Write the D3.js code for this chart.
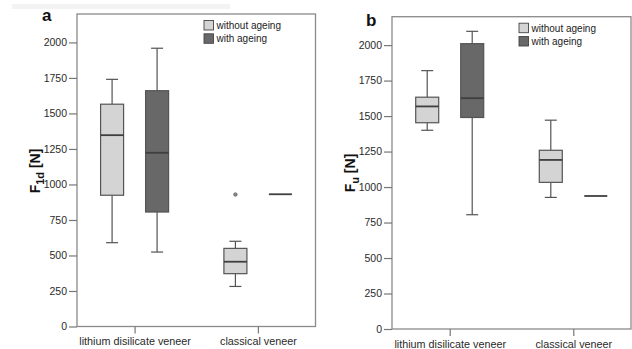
<!DOCTYPE html>
<html><head><meta charset="utf-8">
<script src="https://cdn.jsdelivr.net/npm/d3@7"></script>
<style>body{margin:0;background:#fff}svg{display:block}text{font-family:"Liberation Sans",Arial,sans-serif}</style>
</head><body>
<svg id="chart" width="632" height="349"></svg>
<script>
const categories = ["lithium disilicate veneer", "classical veneer"];
const seriesNames = ["without ageing", "with ageing"];
const yTicks = [0, 250, 500, 750, 1000, 1250, 1500, 1750, 2000];

// Panel a: F1d [N]
const aWithoutMin = [590, 282];
const aWithoutQ1 = [924, 372];
const aWithoutMed = [1347, 456];
const aWithoutQ3 = [1565, 550];
const aWithoutMax = [1740, 600];
const aWithoutOut = [[], [929]];
const aWithMin = [524, 931];
const aWithQ1 = [806, 931];
const aWithMed = [1223, 931];
const aWithQ3 = [1660, 931];
const aWithMax = [1959, 931];
const aWithOut = [[], []];

// Panel b: Fu [N]
const bWithoutMin = [1400, 927];
const bWithoutQ1 = [1453, 1033];
const bWithoutMed = [1568, 1191];
const bWithoutQ3 = [1633, 1259];
const bWithoutMax = [1820, 1471];
const bWithoutOut = [[], []];
const bWithMin = [805, 937];
const bWithQ1 = [1490, 937];
const bWithMed = [1626, 937];
const bWithQ3 = [2010, 937];
const bWithMax = [2097, 937];
const bWithOut = [[], []];

const fills = ["#d4d4d4", "#686868"];
const strokeC = "#545454";

function buildSeries(min, q1, med, q3, max, out) {
  return categories.map((c, i) => ({cat: c, min: min[i], q1: q1[i], med: med[i], q3: q3[i], max: max[i], out: out[i]}));
}

const panels = [
  {letter: "a", sub: "1d", left: 77, top: 14, right: 315.5, bottom: 326.5, lx: 42, ly: 21, labX: 40, labY: 171,
   series: [buildSeries(aWithoutMin, aWithoutQ1, aWithoutMed, aWithoutQ3, aWithoutMax, aWithoutOut),
            buildSeries(aWithMin, aWithQ1, aWithMed, aWithQ3, aWithMax, aWithOut)]},
  {letter: "b", sub: "u", left: 392, top: 16.7, right: 631, bottom: 329, lx: 366, ly: 26, labX: 355, labY: 173,
   series: [buildSeries(bWithoutMin, bWithoutQ1, bWithoutMed, bWithoutQ3, bWithoutMax, bWithoutOut),
            buildSeries(bWithMin, bWithQ1, bWithMed, bWithQ3, bWithMax, bWithOut)]}
];

const svg = d3.select("#chart");
svg.append("rect").attr("x", 12).attr("y", 4).attr("width", 218).attr("height", 5).attr("fill", "#f3f3f3");

panels.forEach(p => {
  const g = svg.append("g");
  const y = d3.scaleLinear().domain([0, 2200]).range([p.bottom, p.top]);
  const x = d3.scalePoint().domain(categories).range([p.left, p.right]).padding(0.467);
  const xs = d3.scalePoint().domain(seriesNames).range([-22.5, 22.5]);
  const bw = 23;

  g.append("rect").attr("x", p.left).attr("y", p.top).attr("width", p.right - p.left).attr("height", p.bottom - p.top)
    .attr("fill", "none").attr("stroke", "#8a8a8a").attr("stroke-width", 1.3);

  const yAx = g.append("g").attr("transform", `translate(${p.left},0)`)
    .call(d3.axisLeft(y).tickValues(yTicks).tickSize(8).tickPadding(2).tickFormat(d3.format("d")));
  yAx.select(".domain").remove();
  yAx.selectAll("line").attr("stroke", "#777").attr("stroke-width", 1.2);
  yAx.selectAll("text").attr("fill", "#2a2a2a").style("font-size", "10.5px");

  const xAx = g.append("g").attr("transform", `translate(0,${p.bottom})`)
    .call(d3.axisBottom(x).tickSize(7).tickPadding(4));
  xAx.select(".domain").remove();
  xAx.selectAll("line").attr("stroke", "#777").attr("stroke-width", 1.2);
  xAx.selectAll("text").attr("fill", "#2a2a2a").style("font-size", "10.8px");

  p.series.forEach((ser, si) => {
    ser.forEach(d => {
      const cx = x(d.cat) + xs(seriesNames[si]);
      const bg = g.append("g");
      if (d.q3 - d.q1 > 0) {
        bg.append("line").attr("x1", cx).attr("x2", cx).attr("y1", y(d.q3)).attr("y2", y(d.max)).attr("stroke", strokeC).attr("stroke-width", 1.2);
        bg.append("line").attr("x1", cx).attr("x2", cx).attr("y1", y(d.q1)).attr("y2", y(d.min)).attr("stroke", strokeC).attr("stroke-width", 1.2);
        bg.append("line").attr("x1", cx - 6).attr("x2", cx + 6).attr("y1", y(d.max)).attr("y2", y(d.max)).attr("stroke", strokeC).attr("stroke-width", 1.2);
        bg.append("line").attr("x1", cx - 6).attr("x2", cx + 6).attr("y1", y(d.min)).attr("y2", y(d.min)).attr("stroke", strokeC).attr("stroke-width", 1.2);
        bg.append("rect").attr("x", cx - bw / 2).attr("y", y(d.q3)).attr("width", bw).attr("height", y(d.q1) - y(d.q3))
          .attr("fill", fills[si]).attr("stroke", strokeC).attr("stroke-width", 1.2);
      }
      bg.append("line").attr("x1", cx - bw / 2).attr("x2", cx + bw / 2).attr("y1", y(d.med)).attr("y2", y(d.med))
        .attr("stroke", "#3f3f3f").attr("stroke-width", 1.8);
      d.out.forEach(o => {
        bg.append("circle").attr("cx", cx).attr("cy", y(o)).attr("r", 1.8).attr("fill", "#888").attr("stroke", "#555").attr("stroke-width", 0.6);
      });
    });
  });

  const lgX = p.left + 127, lgY = p.top + 6.5;
  seriesNames.forEach((s, i) => {
    g.append("rect").attr("x", lgX).attr("y", lgY + i * 13.3).attr("width", 9.5).attr("height", 9.5)
      .attr("fill", fills[i]).attr("stroke", "#444").attr("stroke-width", 0.9);
    g.append("text").attr("x", lgX + 12.5).attr("y", lgY + i * 13.3 + 8.5).attr("fill", "#222")
      .style("font-size", "10px").text(s);
  });

  g.append("text").attr("x", p.lx).attr("y", p.ly).style("font-size", "17px").style("font-weight", "bold").attr("fill", "#111").text(p.letter);

  const yl = g.append("text").attr("transform", `translate(${p.labX},${p.labY}) rotate(-90)`)
    .attr("text-anchor", "middle").style("font-size", "14px").style("font-weight", "bold").attr("fill", "#111");
  yl.append("tspan").text("F");
  yl.append("tspan").attr("dy", 4).style("font-size", "11px").text(p.sub);
  yl.append("tspan").attr("dy", -4).text(" [N]");
});
</script>
</body></html>
